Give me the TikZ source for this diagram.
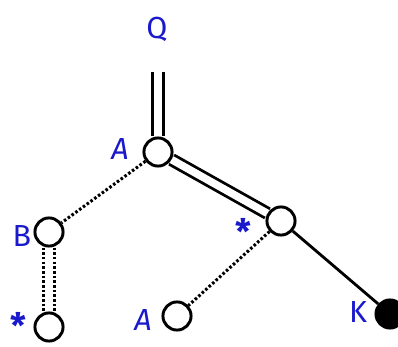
\documentclass[tikz,border=0pt]{standalone}
\usepackage{fontspec}
\setmainfont{Fira Sans}
\usetikzlibrary{positioning,backgrounds}
\definecolor{lblblue}{HTML}{1A1ACC}

\tikzset{
  vtx/.style={circle, draw, line width=2.5pt, fill=white, minimum size=24pt, inner sep=0pt},
  leaf/.style={vtx, fill=black},
  lbl/.style={text=lblblue, font=\fontsize{26}{30}\selectfont, inner sep=0pt},
  starlbl/.style={lbl, font=\fontsize{30}{30}\selectfont\bfseries, text depth=0pt},
  edge/.style={line width=2.4pt},
  dotedge/.style={line width=2.6pt, dash pattern=on 2.2pt off 1.8pt},
  dbl/.style={line width=2.4pt, double=white, double distance=6.5pt}
}

\begin{document}
\begin{tikzpicture}[x=0.03cm, y=-0.03cm]
\useasboundingbox (0,0) rectangle (398,347);
% vertices
\node[vtx] (a) at (158,152) {};
\node[vtx] (b) at (49,232) {};
\node[vtx] (bs) at (49,327) {};
\node[vtx] (s) at (281,221) {};
\node[vtx] (a2) at (177,316) {};
\node[leaf] (k) at (390,314) {};
\coordinate (qtop) at (158,72);
% labels
\node[lbl] (q) at (157,29) {Q};
\node[lbl] (la) at (120,149) {\itshape A};
\node[lbl] (lb) at (22,236) {B};
\node[starlbl] (lbs) at (18,325) {*};
\node[starlbl] (ls) at (243,231) {*};
\node[lbl] (la2) at (143,320) {\itshape A};
\node[lbl] (lk) at (358,312) {K};
% edges
\begin{scope}[on background layer]
\draw[dbl] (qtop) -- (a);
\draw[dbl] (a) -- (s);
\draw[edge] (s) -- (k);
\draw[dotedge] (a) -- (b);
\draw[dotedge] (s) -- (a2);
\draw[dotedge] ([xshift=-5pt]b.south) -- ([xshift=-5pt]bs.north);
\draw[dotedge] ([xshift=5pt]b.south) -- ([xshift=5pt]bs.north);
\end{scope}
\end{tikzpicture}
\end{document}
